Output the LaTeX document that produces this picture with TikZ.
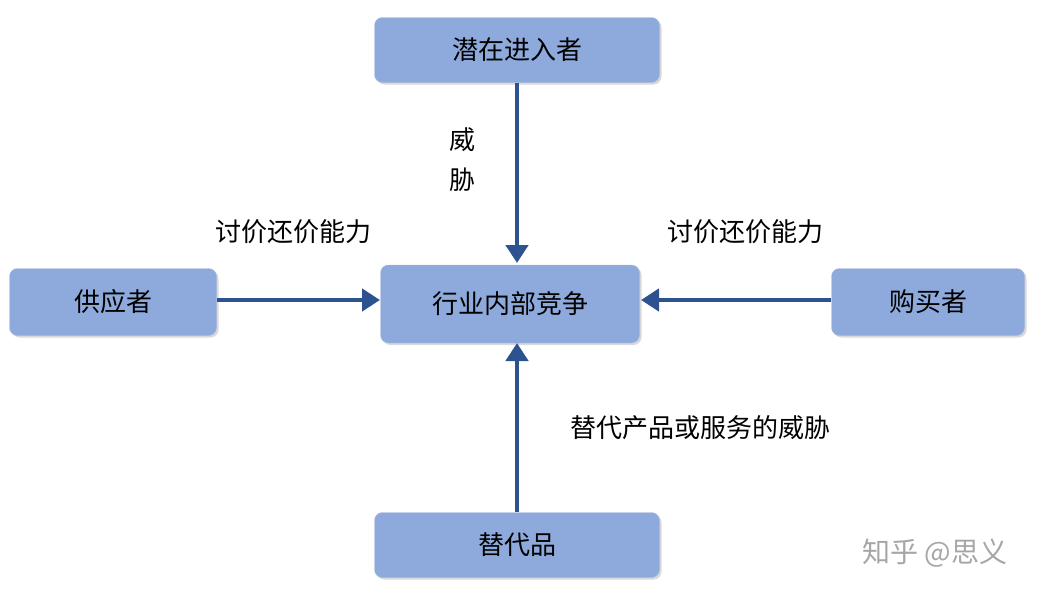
\documentclass[tikz,border=0pt]{standalone}
\usepackage{fontspec}
\setmainfont{Noto Sans CJK SC}
\usetikzlibrary{shadows,arrows.meta}
\definecolor{boxfill}{HTML}{8EAADC}
\definecolor{boxline}{HTML}{A9BCDD}
\definecolor{arr}{HTML}{2C5290}
\begin{document}
\begin{tikzpicture}[x=1pt,y=-1pt,
  box/.style={draw=boxline,fill=boxfill,rounded corners=8pt,drop shadow={shadow xshift=2pt,shadow yshift=-2pt,opacity=0.3},font=\fontsize{26}{30}\selectfont,inner sep=0pt},
  ar/.style={draw=arr,line width=4.5pt,-{Triangle[length=18pt,width=22pt]}},
  lab/.style={font=\fontsize{26}{30}\selectfont}]
\useasboundingbox (0,0) rectangle (1042,600);
\node[box,minimum width=285pt,minimum height=65pt] (top) at (517,50) {潜在进入者};
\node[box,minimum width=259pt,minimum height=78pt] (mid) at (510,304) {行业内部竞争};
\node[box,minimum width=207pt,minimum height=67pt] (left) at (113,302) {供应者};
\node[box,minimum width=193pt,minimum height=67pt] (right) at (928,302) {购买者};
\node[box,minimum width=285pt,minimum height=65pt] (bot) at (517,545) {替代品};
\draw[ar] (top.south -| 517,0) -- (517,263);
\draw[ar] (bot.north -| 517,0) -- (517,343);
\draw[ar] (left.east |- 0,300) -- (380,300);
\draw[ar] (right.west |- 0,300) -- (641,300);
\node[lab] (w1) at (462,140) {威};
\node[lab] (w2) at (462,180) {胁};
\node[lab] (l1) at (293,232) {讨价还价能力};
\node[lab] (l2) at (745,232) {讨价还价能力};
\node[lab] (l3) at (700,428) {替代产品或服务的威胁};
\node[font=\fontsize{28}{32}\selectfont,text=black!35] (wm) at (935,553) {知乎 @思义};
\end{tikzpicture}
\end{document}
